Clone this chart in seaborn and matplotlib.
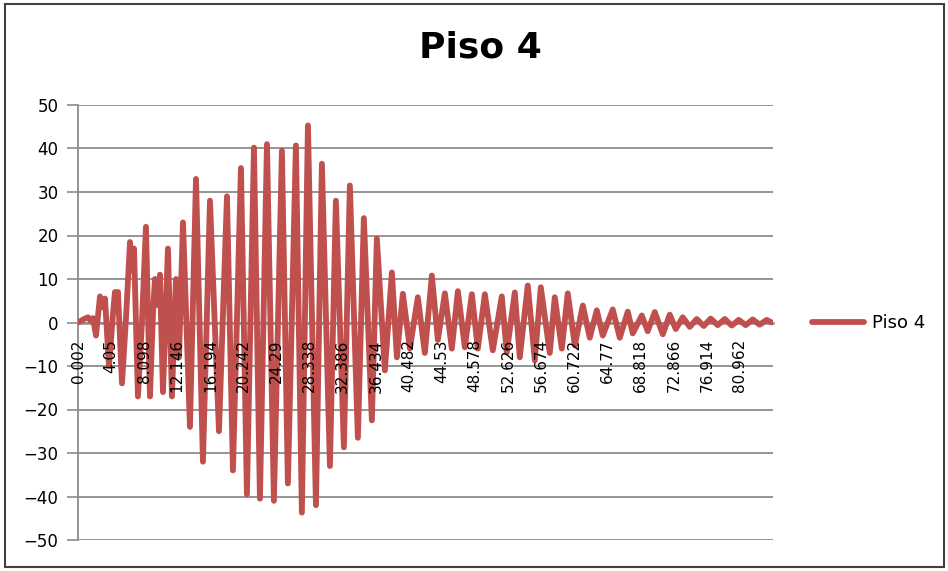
import numpy as np
import pandas as pd
import matplotlib.pyplot as plt
import matplotlib.patches as patches
import seaborn as sns

# peak / trough values (time in s, value)
time_s = [0.0, 0.73, 1.22, 1.59, 1.83, 2.20, 2.69, 3.06, 3.30, 3.79,
          4.28, 4.52, 4.89, 5.38, 5.87, 6.36, 6.60, 6.85, 7.33, 7.82,
          8.31, 8.80, 9.17, 9.41, 9.78, 10.02, 10.39, 11.00, 11.49, 11.98,
          12.35, 12.84, 13.69, 14.43, 15.28, 16.14, 17.24, 18.22, 18.95, 19.93,
          20.66, 21.52, 22.25, 23.11, 23.96, 24.94, 25.67, 26.65, 27.38, 28.12,
          29.10, 29.83, 30.81, 31.54, 32.52, 33.25, 34.23, 34.96, 35.94, 36.55,
          37.53, 38.39, 39.00, 39.73, 40.59, 41.56, 42.42, 43.28, 44.01, 44.87,
          45.72, 46.46, 47.31, 48.17, 48.90, 49.76, 50.73, 51.83, 52.44, 53.42,
          54.03, 55.01, 55.87, 56.60, 57.70, 58.31, 59.17, 59.90, 60.76, 61.74,
          62.59, 63.45, 64.18, 65.40, 66.26, 67.24, 67.85, 68.95, 69.68, 70.54,
          71.52, 72.37, 73.11, 73.96, 74.82, 75.67, 76.53, 77.38, 78.24, 79.10,
          79.95, 80.81, 81.66, 82.52, 83.37, 84.23, 84.84]
piso4 = [0.0, 0.8, 1.2, 0.3, 1.0, -3.0, 6.0, 3.5, 5.5, -10.0,
         2.0, 7.0, 7.0, -14.0, 1.0, 18.5, 12.0, 17.0, -17.0, 0.0,
         22.0, -17.0, 2.0, 10.0, 4.0, 11.0, -16.0, 17.0, -17.0, 10.0,
         -8.0, 23.0, -24.0, 33.0, -32.0, 28.0, -25.0, 29.0, -34.0, 35.5,
         -39.5, 40.2, -40.5, 41.0, -41.0, 39.5, -37.0, 40.7, -43.7, 45.3,
         -42.0, 36.5, -33.0, 28.0, -28.7, 31.5, -26.5, 24.0, -22.5, 19.3,
         -11.0, 11.5, -8.0, 6.6, -6.0, 5.8, -7.0, 10.8, -4.0, 6.7,
         -6.0, 7.2, -5.7, 6.5, -6.0, 6.5, -6.4, 6.0, -6.9, 6.9,
         -8.0, 8.5, -8.7, 8.1, -7.0, 5.8, -6.0, 6.7, -5.3, 3.9,
         -3.5, 2.8, -3.0, 3.0, -3.5, 2.5, -2.5, 1.6, -2.0, 2.4,
         -2.7, 1.8, -1.5, 1.2, -1.0, 0.8, -0.8, 0.9, -0.6, 0.8,
         -0.7, 0.6, -0.6, 0.7, -0.5, 0.6, 0.0]

x_labels = ['0.002', '4.05', '8.098', '12.146', '16.194', '20.242', '24.29',
            '28.338', '32.386', '36.434', '40.482', '44.53', '48.578', '52.626',
            '56.674', '60.722', '64.77', '68.818', '72.866', '76.914', '80.962']

df = pd.DataFrame({'t': time_s, 'Piso 4': piso4})

sns.set_theme(style='white')
plt.rcParams['font.family'] = ['DejaVu Sans']
plt.rcParams['text.color'] = 'black'
plt.rcParams['xtick.color'] = 'black'
plt.rcParams['ytick.color'] = 'black'

W, H = 948, 571
fig = plt.figure(figsize=(W / 100, H / 100), dpi=100)
ax = fig.add_axes([78 / W, 1 - 540 / H, (773 - 78) / W, (540 - 105) / H])

grid_col = '#8c8c8c'
sns.lineplot(data=df, x='t', y='Piso 4', ax=ax, color='#C0504D',
             linewidth=4.2, label='Piso 4', zorder=3, sort=False)

ax.set_xlim(0, 85)
ax.set_ylim(-50, 50)
ax.set_yticks(range(-50, 51, 10))
ax.set_xticks([float(s) for s in x_labels])
ax.set_xticklabels(x_labels, fontsize=13)
ax.tick_params(axis='x', length=0, pad=12, labelrotation=90)
for lab in ax.get_xticklabels():
    lab.set_verticalalignment('top')
    lab.set_horizontalalignment('center')
# category labels sit on top of the series, like in Excel
ax.xaxis.set_zorder(4)
ax.tick_params(axis='y', labelsize=12, length=8, width=1.2, color=grid_col,
               labelcolor='black', direction='out', pad=6, left=True)
ax.yaxis.grid(True, color=grid_col, linewidth=1.3)
ax.set_xlabel('')
ax.set_ylabel('')

for side in ['top', 'right']:
    ax.spines[side].set_visible(False)
ax.spines['left'].set_color(grid_col)
ax.spines['left'].set_linewidth(1.3)
ax.spines['bottom'].set_position(('data', 0))
ax.spines['bottom'].set_color(grid_col)
ax.spines['bottom'].set_linewidth(1.8)

fig.text(480 / W, 1 - 47 / H, 'Piso 4', ha='center', va='center',
         fontsize=26, fontweight='bold', color='black')

leg = ax.legend(loc='center left', bbox_to_anchor=(812 / W, 1 - 323 / H),
                bbox_transform=fig.transFigure, frameon=False, fontsize=13,
                handlelength=2.9, handletextpad=0.4, borderpad=0, borderaxespad=0)
for txt in leg.get_texts():
    txt.set_color('black')

fig.patches.append(patches.Rectangle((5 / W, 4 / H), 939 / W, 563 / H,
                                     transform=fig.transFigure, fill=False,
                                     edgecolor='#404040', linewidth=1.5))

fig.savefig('out.png', dpi=100)
